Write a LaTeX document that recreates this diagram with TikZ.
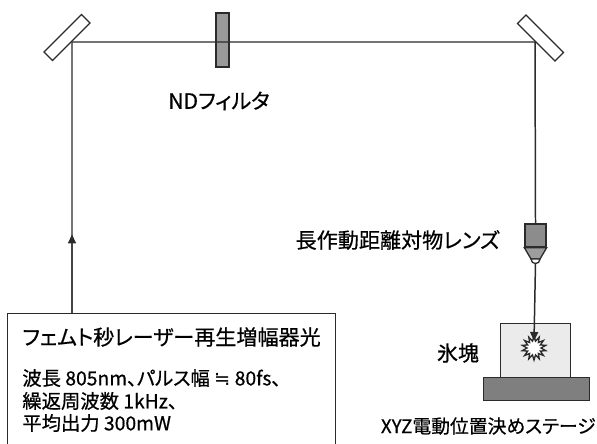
\documentclass[tikz,border=0pt]{standalone}
\usepackage{fontspec}
\setmainfont{Noto Sans CJK JP}[RawFeature=+palt,FakeBold=0.6]
\newfontfamily\symfont{DejaVu Sans}
\usetikzlibrary{arrows.meta,calc}
\definecolor{ink}{HTML}{2B2B2B}
\definecolor{ndgray}{HTML}{9A9A9A}
\definecolor{lensgray}{HTML}{8C8C8C}
\definecolor{icegray}{HTML}{EBEBEB}
\definecolor{stagegray}{HTML}{7F7F7F}
\begin{document}
\begin{tikzpicture}[x=0.02cm,y=-0.02cm,
  beam/.style={draw=ink,line width=0.85pt},
  mirror/.style={draw=ink,fill=white,line width=0.75pt,minimum width=53*0.02cm,minimum height=12*0.02cm,inner sep=0pt},
  frame/.style={draw=ink,line width=0.75pt,inner sep=0pt},
  lbl/.style={inner sep=0pt,text=black,font=\fontsize{12pt}{14pt}\selectfont},
  small/.style={inner sep=0pt,text=black,anchor=west,font=\fontsize{11pt}{13pt}\selectfont},
  tip/.style={-{Triangle[length=9*0.02cm,width=8*0.02cm]}}]
\clip (0,0) rectangle (597,443);
\fill[white] (0,0) rectangle (597,443);

% beam corners
\coordinate (beamL) at (72,42);
\coordinate (beamR) at (535,42);

% laser source box
\node[frame,anchor=north west,minimum width=328*0.02cm,minimum height=150*0.02cm] (laser) at (7,313) {};
\node[lbl,anchor=west] (title) at (22,337) {フェムト秒レーザー再生増幅器光};
\node[small] (spec1) at (22,378) {波長 805nm、パルス幅 {\symfont ≒} 80fs、};
\node[small] (spec2) at (22,401) {繰返周波数 1kHz、};
\node[small] (spec3) at (22,423) {平均出力 300mW};
\coordinate (out) at (72,313);

% ND filter
\node[frame,fill=ndgray,minimum width=13*0.02cm,minimum height=54*0.02cm] (nd) at (222.5,40) {};
\node[lbl] (ndlbl) at (219,101) {NDフィルタ};

% objective lens
\node[frame,fill=lensgray,minimum width=21*0.02cm,minimum height=23*0.02cm] (lens) at (535.5,235.5) {};
\draw[frame,fill=lensgray!85] (lens.south west) -- (lens.south east) -- (540,259) -- (531,259) -- cycle;
\draw[frame,fill=white] (531,259) .. controls (531,265) and (540,265) .. (540,259) -- cycle;
\coordinate (lensout) at (535.5,263);
\node[lbl,anchor=east] (lenslbl) at (500,240) {長作動距離対物レンズ};

% ice block on stage
\node[frame,fill=icegray,anchor=north west,minimum width=70*0.02cm,minimum height=54*0.02cm] (ice) at (500,323) {};
\node[frame,fill=stagegray,anchor=north west,minimum width=106*0.02cm,minimum height=23*0.02cm] (stage) at (483,377) {};
\node[lbl] (icelbl) at (458,353) {氷塊};
\node[lbl,anchor=east,font=\fontsize{10.7pt}{13pt}\selectfont] (stagelbl) at (596,426) {XYZ電動位置決めステージ};

% focal spark
\coordinate (spark) at (534,348);
\draw[frame,fill=white,line join=miter]
  plot[samples=29,domain=0:28,variable=\k]
  ({534+(mod(\k,2)==0 ? 12 : 7)*cos(\k*360/28+90)},{348+(mod(\k,2)==0 ? 12 : 7)*sin(\k*360/28+90)}) -- cycle;

% beam path
\draw[beam] (out) -- (beamL) -- (beamR) -- (lens.north);
\draw[beam,tip] (out) -- ($(out)!0.29!(beamL)$);
\draw[beam,tip] (lensout) -- ($(spark)+(0,-7)$);

% mirrors
\node[mirror,rotate=45] (mirL) at (67,37.5) {};
\node[mirror,rotate=-45] (mirR) at (540.5,38) {};
\end{tikzpicture}
\end{document}
